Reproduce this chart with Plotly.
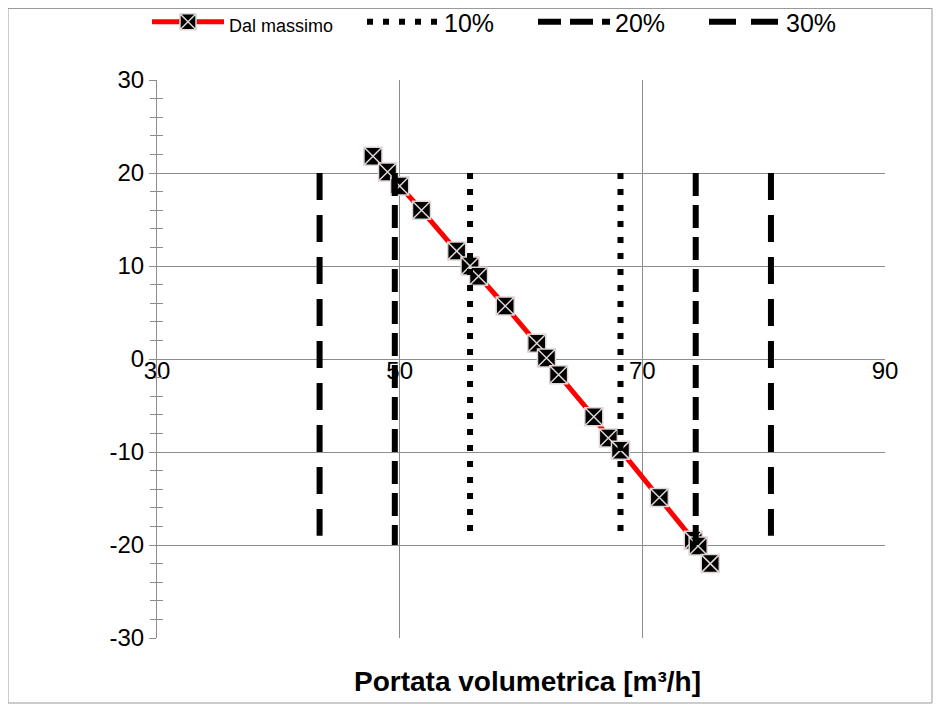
import plotly.graph_objects as go

# ---- data ----
portata = [47.8, 49.0, 50.0, 51.8, 54.7, 55.8, 56.5, 58.7, 61.3, 62.1, 63.1,
           66.0, 67.2, 68.2, 71.4, 74.2, 74.6, 75.6]
valori = [21.8, 20.1, 18.6, 16.0, 11.6, 10.0, 8.9, 5.7, 1.7, 0.1, -1.7,
          -6.2, -8.5, -9.8, -14.9, -19.5, -20.1, -22.0]

lim10_x = [55.8, 55.8, None, 68.2, 68.2]
lim10_y = [20, -19, None, 20, -19]
lim20_x = [49.6, 49.6, None, 74.4, 74.4]
lim20_y = [20, -20, None, 20, -20]
lim30_x = [43.4, 43.4, None, 80.6, 80.6]
lim30_y = [20, -19, None, 20, -19]

x_ticks = [30, 50, 70, 90]
y_ticks = [-30, -20, -10, 0, 10, 20, 30]
y_labels = ["-30", "-20", "-10", "0", "10", "20", "30"]

FONT = "Liberation Sans, Arial, sans-serif"
GRID = "#8c8c8c"

fig = go.Figure()

fig.add_trace(go.Scatter(
    x=portata, y=valori, mode="lines+markers",
    name="<span style='font-size:18px'>Dal massimo</span>",
    legendwidth=128,
    line=dict(color="#ff0000", width=5),
    marker=dict(symbol="square-x", size=18, color="black",
                line=dict(color="#e0d6d6", width=1.5)),
))
fig.add_trace(go.Scatter(
    x=lim10_x, y=lim10_y, mode="lines", name="10%", legendwidth=84,
    xaxis="x2", yaxis="y2",
    line=dict(color="black", width=6, dash="6px,10px"),
))
fig.add_trace(go.Scatter(
    x=lim20_x, y=lim20_y, mode="lines", name="20%", legendwidth=84,
    xaxis="x2", yaxis="y2",
    line=dict(color="black", width=6, dash="23px,9px"),
))
fig.add_trace(go.Scatter(
    x=lim30_x, y=lim30_y, mode="lines", name="30%", legendwidth=60,
    xaxis="x2", yaxis="y2",
    line=dict(color="black", width=6, dash="27px,15px"),
))

# page body adds an 8px offset; target plot area in screenshot: x 157-885, y 80-638
OFF = 8
W, H = 941 - OFF, 708 - OFF
L, T = 157 - OFF, 80 - OFF
pw, ph = 728, 558
R, B = W - L - pw, H - T - ph

def px_x(p):
    return (p - OFF - L) / pw

def px_y(p):
    return (T + ph - (p - OFF)) / ph

fig.update_layout(
    width=W, height=H,
    margin=dict(l=L, r=R, t=T, b=B, autoexpand=False),
    paper_bgcolor="white", plot_bgcolor="white",
    font=dict(family=FONT, size=24, color="black"),
    showlegend=True,
    legend=dict(orientation="h", x=px_x(147), y=px_y(22), xanchor="left",
                yanchor="middle", font=dict(size=25), itemwidth=72,
                bgcolor="rgba(0,0,0,0)", traceorder="normal"),
    xaxis=dict(range=[30, 90], tickvals=x_ticks, showticklabels=False,
               showgrid=True, gridcolor=GRID, gridwidth=1, zeroline=False,
               showline=False, ticks=""),
    xaxis2=dict(range=[30, 90], overlaying="x", anchor="free",
                position=0.5 + 5 / 558,
                side="bottom", tickvals=x_ticks, ticktext=[str(v) for v in x_ticks],
                showgrid=False, zeroline=False, showline=False, ticks="",
                tickfont=dict(size=24, family=FONT)),
    yaxis=dict(range=[-30, 30], tickvals=y_ticks, ticktext=y_labels,
               showgrid=True, gridcolor=GRID, gridwidth=1, zeroline=False,
               showline=True, linecolor=GRID, linewidth=1,
               ticks="outside", ticklen=7, tickcolor=GRID,
               minor=dict(dtick=2, ticks="outside", ticklen=6, tickcolor=GRID),
               tickfont=dict(size=24, family=FONT)),
    yaxis2=dict(range=[-30, 30], overlaying="y", side="left", anchor="x",
                tickvals=y_ticks, showticklabels=False, showgrid=False,
                zeroline=False, showline=False,
                ticks="inside", ticklen=6, tickcolor=GRID,
                minor=dict(dtick=2, ticks="inside", ticklen=6, tickcolor=GRID)),
    annotations=[dict(text="<b>Portata volumetrica [m³/h]</b>", xref="paper",
                      yref="paper", x=px_x(527), y=px_y(681), showarrow=False,
                      font=dict(size=28, family=FONT), xanchor="center",
                      yanchor="middle")],
    shapes=[dict(type="rect", xref="paper", yref="paper",
                 x0=px_x(8), x1=px_x(932), y0=px_y(703), y1=px_y(8.5),
                 line=dict(color="#9a9a9a", width=1), layer="below")],
)

fig.write_html("out.html")
